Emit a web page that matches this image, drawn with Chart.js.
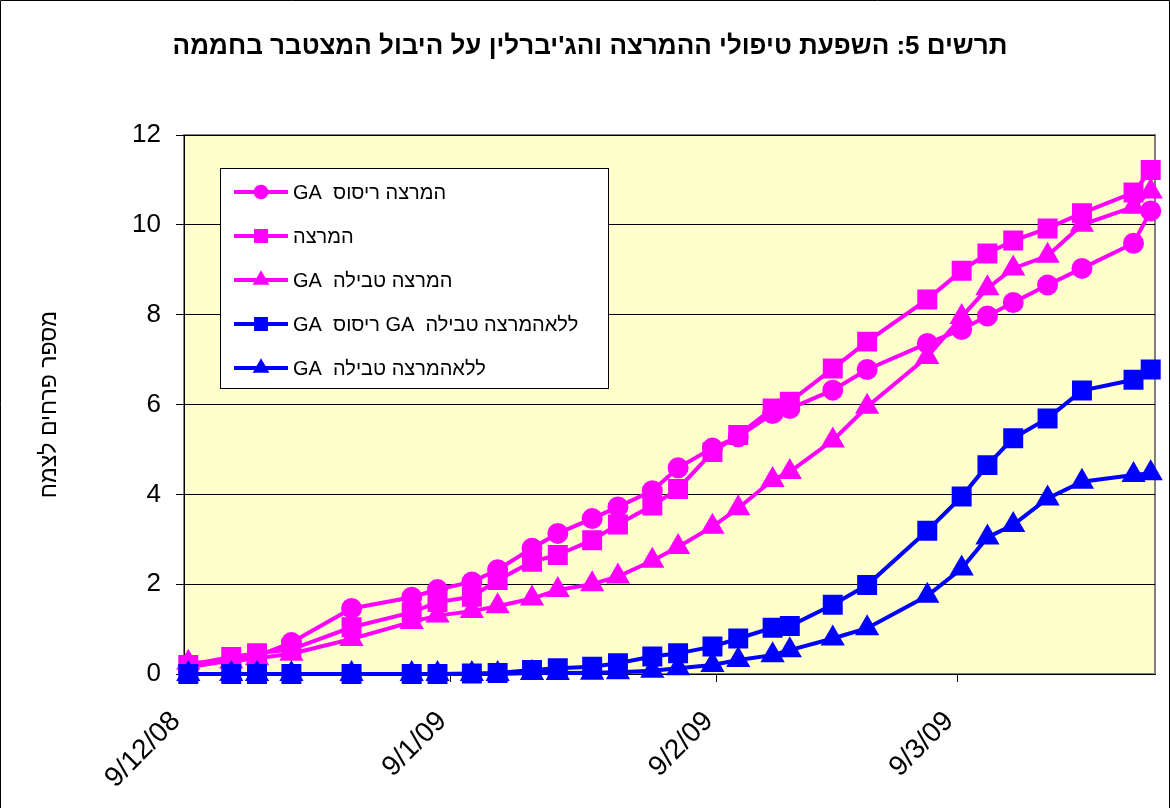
<!DOCTYPE html>
<html lang="he">
<head>
<meta charset="utf-8">
<title>תרשים 5</title>
<script src="https://cdn.jsdelivr.net/npm/chart.js@4.4.0/dist/chart.umd.min.js"></script>
<style>
  html, body { margin: 0; padding: 0; background: #fff; }
  #wrap { width: 1170px; height: 808px; }
</style>
</head>
<body>
<div id="wrap"><canvas id="chart-yibul" width="1170" height="808"></canvas></div>
<script>
// תאריכי ספירה (יבול מצטבר)
const startDate = '2008-12-09';
const endDate = '2009-04-01';
const dates = [
    '2008-12-09', '2008-12-14', '2008-12-17', '2008-12-21', '2008-12-28',
    '2009-01-04', '2009-01-07', '2009-01-11', '2009-01-14', '2009-01-18',
    '2009-01-21', '2009-01-25', '2009-01-28', '2009-02-01', '2009-02-04',
    '2009-02-08', '2009-02-11', '2009-02-15', '2009-02-17', '2009-02-22',
    '2009-02-26', '2009-03-05', '2009-03-09', '2009-03-12', '2009-03-15',
    '2009-03-19', '2009-03-23', '2009-03-29', '2009-03-31'
];

const tickDates = ['2008-12-09', '2009-01-09', '2009-02-09', '2009-03-09'];
const tickLabels = ['9/12/08', '9/1/09', '9/2/09', '9/3/09'];

const chartTitle = "תרשים 5: השפעת טיפולי ההמרצה והג'יברלין על היבול המצטבר בחממה";
const yTitle = 'מספר פרחים לצמח';

const seriesLabels = [
    'המרצה ריסוס  GA',
    'המרצה',
    'המרצה טבילה  GA',
    'ללאהמרצה טבילה  GA ריסוס  GA',
    'ללאהמרצה טבילה  GA'
];

// מספר פרחים לצמח
const stimSprayGA = [0.15, 0.30, 0.40, 0.70, 1.46, 1.71, 1.88, 2.05, 2.32, 2.80, 3.13, 3.46, 3.72, 4.08, 4.59, 5.03, 5.28, 5.80, 5.91, 6.32, 6.78, 7.36, 7.67, 7.97, 8.27, 8.66, 9.03, 9.59, 10.31];
const stimOnly = [0.20, 0.38, 0.46, 0.55, 1.04, 1.37, 1.60, 1.72, 2.09, 2.50, 2.65, 2.98, 3.33, 3.75, 4.12, 4.94, 5.32, 5.91, 6.06, 6.80, 7.40, 8.34, 8.98, 9.36, 9.65, 9.92, 10.26, 10.72, 11.22];
const stimDipGA = [0.25, 0.28, 0.35, 0.45, 0.78, 1.16, 1.30, 1.40, 1.51, 1.68, 1.87, 2.00, 2.17, 2.52, 2.83, 3.28, 3.69, 4.32, 4.50, 5.20, 5.95, 7.06, 7.95, 8.59, 9.03, 9.31, 10.00, 10.40, 10.74];
const noStimDipSprayGA = [0, 0, 0, 0, 0, 0, 0, 0.01, 0.02, 0.09, 0.13, 0.16, 0.24, 0.39, 0.46, 0.61, 0.79, 1.03, 1.07, 1.54, 1.98, 3.19, 3.95, 4.65, 5.25, 5.69, 6.31, 6.55, 6.78];
const noStimDipGA = [0, 0, 0, 0, 0, 0, 0, 0, 0, 0.02, 0.02, 0.03, 0.04, 0.07, 0.13, 0.20, 0.31, 0.42, 0.53, 0.79, 1.02, 1.74, 2.35, 3.04, 3.32, 3.91, 4.28, 4.43, 4.47];

const allSeries = [stimSprayGA, stimOnly, stimDipGA, noStimDipSprayGA, noStimDipGA];

const FONT = 'Arial, "Liberation Sans", sans-serif';

function dayOf(s) {
    return (Date.parse(s) - Date.parse(startDate)) / 86400000;
}

// Excel pone cada punto en el medio de su dia
function toPoints(values) {
    return values.map((v, i) => ({ x: dayOf(dates[i]) + 0.5, y: v }));
}

const looks = [
    { color: '#FF00FF', style: 'circle', r: 9 },
    { color: '#FF00FF', style: 'rect', r: 12 },
    { color: '#FF00FF', style: 'triangle', r: 11 },
    { color: '#0000FF', style: 'rect', r: 12 },
    { color: '#0000FF', style: 'triangle', r: 11 }
];

const datasets = allSeries.map((vals, i) => ({
    label: seriesLabels[i],
    data: toPoints(vals),
    borderColor: looks[i].color,
    backgroundColor: looks[i].color,
    borderWidth: 4,
    pointStyle: looks[i].style,
    pointRadius: looks[i].r,
    pointBorderWidth: 3,
    pointBackgroundColor: looks[i].color,
    pointBorderColor: looks[i].color,
    tension: 0,
    clip: false,
    order: allSeries.length - 1 - i
}));

// fondo amarillo del area del grafico + marco
const plotFrame = {
    id: 'plotFrame',
    beforeDraw(chart) {
        const { ctx, chartArea: a } = chart;
        ctx.save();
        ctx.fillStyle = '#FFFFCC';
        ctx.fillRect(a.left, a.top, a.right - a.left, a.bottom - a.top);
        ctx.strokeStyle = '#808080';
        ctx.lineWidth = 2;
        ctx.strokeRect(a.left, a.top, a.right - a.left, a.bottom - a.top);
        ctx.restore();
    },
    afterDraw(chart) {
        const ctx = chart.ctx;
        ctx.save();
        ctx.strokeStyle = '#000';
        ctx.lineWidth = 1;
        ctx.beginPath();
        ctx.moveTo(0.5, chart.height);
        ctx.lineTo(0.5, 0.5);
        ctx.lineTo(chart.width - 0.5, 0.5);
        ctx.lineTo(chart.width - 0.5, chart.height);
        ctx.stroke();
        ctx.restore();
    }
};

// leyenda en caja blanca dentro del grafico
const boxLegend = {
    id: 'boxLegend',
    afterDatasetsDraw(chart) {
        const ctx = chart.ctx;
        const x0 = 220, y0 = 168, w = 388, h = 220;
        ctx.save();
        ctx.fillStyle = '#fff';
        ctx.fillRect(x0, y0, w, h);
        ctx.strokeStyle = '#000';
        ctx.lineWidth = 1;
        ctx.strokeRect(x0 + 0.5, y0 + 0.5, w, h);
        ctx.font = '20px ' + FONT;
        ctx.textBaseline = 'middle';
        ctx.textAlign = 'left';
        chart.data.datasets.forEach((ds, i) => {
            const y = 192 + i * 44;
            ctx.strokeStyle = ds.borderColor;
            ctx.fillStyle = ds.borderColor;
            ctx.lineWidth = 4;
            ctx.beginPath();
            ctx.moveTo(234, y);
            ctx.lineTo(288, y);
            ctx.stroke();
            ctx.lineWidth = 2;
            Chart.helpers.drawPoint(ctx, {
                pointStyle: ds.pointStyle,
                radius: ds.pointRadius * 0.7,
                borderWidth: 2,
                rotation: 0
            }, 261, y);
            ctx.fillStyle = '#000';
            ctx.direction = 'rtl';
            ctx.fillText(ds.label, 293, y + 1);
            ctx.direction = 'ltr';
        });
        ctx.restore();
    }
};

new Chart(document.getElementById('chart-yibul'), {
    type: 'line',
    data: { datasets: datasets },
    plugins: [plotFrame, boxLegend],
    options: {
        responsive: false,
        animation: false,
        layout: { padding: { left: 18, right: 8, top: 0, bottom: 0 } },
        font: { family: FONT },
        plugins: {
            legend: { display: false },
            tooltip: { enabled: false },
            title: {
                display: true,
                text: chartTitle,
                color: '#000',
                font: { family: FONT, size: 26, weight: 'bold' },
                padding: { top: 31.4, bottom: 72.4 }
            }
        },
        scales: {
            x: {
                type: 'linear',
                min: 0,
                max: dayOf(endDate),
                afterBuildTicks: s => { s.ticks = tickDates.map(d => ({ value: dayOf(d) })); },
                afterFit: s => { s.height = 134; },
                grid: { drawOnChartArea: false, drawTicks: true, tickLength: 8, color: '#000' },
                border: { color: '#000', width: 1 },
                ticks: {
                    autoSkip: false,
                    minRotation: 45,
                    maxRotation: 45,
                    padding: 23,
                    labelOffset: -8,
                    color: '#000',
                    font: { family: FONT, size: 28 },
                    callback: v => {
                        const k = tickDates.findIndex(d => dayOf(d) === v);
                        return k >= 0 ? tickLabels[k] : '';
                    }
                }
            },
            y: {
                min: 0,
                max: 12,
                afterFit: s => { s.width = 166; },
                grid: { color: '#000', tickLength: 8 },
                border: { color: '#000', width: 1 },
                ticks: {
                    stepSize: 2,
                    padding: 15,
                    color: '#000',
                    font: { family: FONT, size: 26 }
                },
                title: {
                    display: true,
                    text: yTitle,
                    color: '#000',
                    font: { family: FONT, size: 23 },
                    padding: { top: 18, bottom: 0 }
                }
            }
        }
    }
});
</script>
</body>
</html>
